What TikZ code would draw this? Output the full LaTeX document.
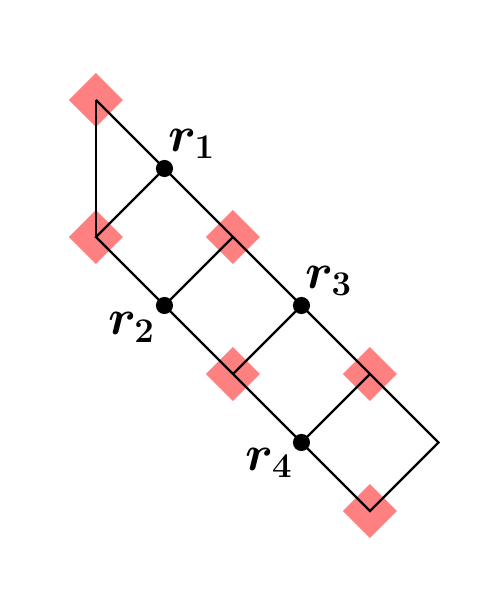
\documentclass[tikz,border=0pt]{standalone}
\usepackage{amsmath,bm}
\usetikzlibrary{calc}
\begin{document}
\begin{tikzpicture}[x=1cm,y=1cm,
  sq/.style={fill={rgb,255:red,255;green,128;blue,128}, draw=none},
  edge/.style={draw=black, line width=0.95pt, line join=miter},
  dot/.style={circle, fill=black, inner sep=0pt, minimum size=0.25cm},
  lab/.style={font=\huge, inner sep=0pt}]
\useasboundingbox (-1.401,-1.460) rectangle (5.606,7.460);
% grid points
\coordinate (a) at (0,6);
\coordinate (b) at (0,4);
\coordinate (c) at (2,4);
\coordinate (d) at (2,2);
\coordinate (e) at (4,2);
\coordinate (f) at (4,0);
\coordinate (g) at (5,1);
\coordinate (p1) at (1,5);
\coordinate (p2) at (1,3);
\coordinate (p3) at (3,3);
\coordinate (p4) at (3,1);
% diamonds
\foreach \q in {a,b,c,d,e,f}
  \fill[sq] ($(\q)+(0,0.394)$) -- ($(\q)+(0.394,0)$) -- ($(\q)+(0,-0.394)$) -- ($(\q)+(-0.394,0)$) -- cycle;
% edges
\draw[edge] (a) -- (b);
\draw[edge] (a) -- (p1) -- (c) -- (p3) -- (e) -- (g) -- (f) -- (p4) -- (d) -- (p2) -- (b) -- (p1);
\draw[edge] (p2) -- (c);
\draw[edge] (d) -- (p3);
\draw[edge] (p4) -- (e);
% dots
\node[dot] (r1) at (p1) {};
\node[dot] (r2) at (p2) {};
\node[dot] (r3) at (p3) {};
\node[dot] (r4) at (p4) {};
% labels
\node[lab] (l1) at ([shift={(0.40,0.36)}]p1) {$\boldsymbol{r_1}$};
\node[lab] (l2) at ([shift={(-0.48,-0.32)}]p2) {$\boldsymbol{r_2}$};
\node[lab] (l3) at ([shift={(0.40,0.36)}]p3) {$\boldsymbol{r_3}$};
\node[lab] (l4) at ([shift={(-0.47,-0.30)}]p4) {$\boldsymbol{r_4}$};
\end{tikzpicture}
\end{document}
